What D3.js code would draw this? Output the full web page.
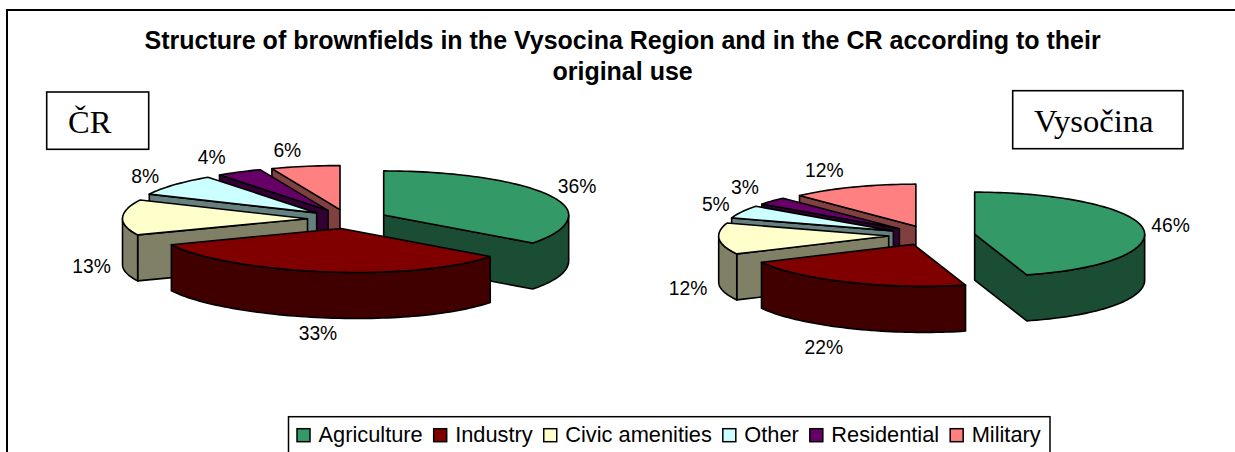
<!DOCTYPE html>
<html><head><meta charset="utf-8">
<script src="https://d3js.org/d3.v7.min.js"></script>
<style>html,body{margin:0;padding:0;background:#fff;overflow:hidden}svg{display:block}</style>
</head><body><svg id="c" width="1235" height="452"></svg>
<script>
const categories = ["Agriculture","Industry","Civic amenities","Other","Residential","Military"];
const colors = ["#339966","#800000","#FFFFCC","#CCFFFF","#660066","#FF8080"];
const crValues = [36,33,13,8,4,6];
const vysocinaValues = [46,22,12,5,3,12];
const titleLines = ["Structure of brownfields in the Vysocina Region and in the CR according to their","original use"];
const crNudge = [[26,-10],[-9.8,61],[-31,49],[-29,-9],[-27.5,-15],[-18,-16]];
const vyNudge = [[27.3,-4],[-25.7,65],[-31,49.7],[-26,-7.5],[-27,-14],[-29,-17]];

const svg = d3.select("#c");
const BLACK = "#000";
svg.append("rect").attr("x",7).attr("y",10).attr("width",1300).attr("height",500)
  .attr("fill","#fff").attr("stroke",BLACK).attr("stroke-width",2);

svg.append("g").selectAll("text").data(titleLines).join("text")
  .attr("x",622.6).attr("y",(d,i)=>49+i*31).attr("text-anchor","middle")
  .attr("font-family","'Liberation Sans'").attr("font-weight","bold").attr("font-size",25)
  .text(d=>d);

const line = d3.line();
const order = [5,4,3,2,0,1];   // painter's order, back to front

function drawPie(values, nudge, o){
  const g = svg.append("g");
  const slices = d3.pie().sort(null).value(d=>d)(values);
  const warp = dy => dy>0 ? o.skew*dy*dy/o.ry : 0;
  order.forEach(i=>{
    const s = slices[i], mid=(s.startAngle+s.endAngle)/2;
    const ax=o.cx+o.e*Math.sin(mid), ay=o.cy-o.e*o.k*Math.cos(mid);
    const P=t=>{const dy=-o.ry*Math.cos(t);
      return [ax+o.rx*Math.sin(t)+warp(dy), ay+dy];};
    const n=Math.max(6,Math.ceil((s.endAngle-s.startAngle)/0.03));
    const arc=d3.range(n+1).map(j=>P(s.startAngle+(s.endAngle-s.startAngle)*j/n));
    const ring=[[ax,ay],...arc,[ax,ay]];
    const base=d3.rgb(colors[i]); const wall=d3.rgb(base.r/2,base.g/2,base.b/2).formatHex();
    const style=sel=>sel.attr("stroke",BLACK).attr("stroke-width",1.6).attr("stroke-linejoin","round");
    // extruded wall: runs of boundary edges heading leftwards face the viewer
    let run=[];
    const flush=()=>{ if(run.length>1){
        const poly=[...run,...run.slice().reverse().map(p=>[p[0],p[1]+o.depth])];
        g.append("path").attr("d",line(poly)+"Z").attr("fill",wall).call(style);
      } run=[]; };
    for(let j=0;j<ring.length-1;j++){
      const a=ring[j],b=ring[j+1];
      if(b[0]<a[0]-1e-6){ if(!run.length) run.push(a); run.push(b);
        if(j===0||j===ring.length-2) flush(); }
      else flush();
    }
    flush();
    g.append("path").attr("d",line(ring)+"Z").attr("fill",colors[i]).call(style);
  });
  slices.forEach((s,i)=>{
    const mid=(s.startAngle+s.endAngle)/2;
    const ax=o.cx+o.e*Math.sin(mid), ay=o.cy-o.e*o.k*Math.cos(mid);
    const dy=-o.ry*Math.cos(mid);
    g.append("text")
      .attr("x",ax+o.rx*Math.sin(mid)+warp(dy)+nudge[i][0])
      .attr("y",ay+dy+nudge[i][1]+7)
      .attr("text-anchor","middle").attr("font-family","'Liberation Sans'")
      .attr("font-size",19.3).attr("fill","#000").text(d3.format(".0f")(values[i])+"%");
  });
}
drawPie(crValues,crNudge,{cx:347.5,cy:219,e:40,k:.24,rx:185,ry:44,depth:46,skew:.36});
drawPie(vysocinaValues,vyNudge,{cx:931.8,cy:235.4,e:43.2,k:.23,rx:170,ry:42,depth:46,skew:.25});

function tag(x,y,w,h,t,tx,by){
  svg.append("rect").attr("x",x).attr("y",y).attr("width",w).attr("height",h)
    .attr("fill","#fff").attr("stroke",BLACK).attr("stroke-width",1.6);
  svg.append("text").attr("x",tx).attr("y",by).attr("font-family","'Liberation Serif'")
    .attr("font-size",32.6).attr("fill","#000").text(t);
}
tag(46.7,92,102,57.3,"ČR",68,133);
tag(1012.7,90.7,170.3,58,"Vysočina",1034,131.7);

// legend
svg.append("rect").attr("x",288.5).attr("y",416.7).attr("width",761.5).attr("height",50)
  .attr("fill","#fff").attr("stroke",BLACK).attr("stroke-width",1.5);
let lx=297;
const lg=svg.append("g");
categories.forEach((c,i)=>{
  lg.append("rect").attr("x",lx).attr("y",428.7).attr("width",13).attr("height",13)
    .attr("fill",colors[i]).attr("stroke",BLACK).attr("stroke-width",1.5);
  const t=lg.append("text").attr("x",lx+21.5).attr("y",442).attr("font-family","'Liberation Sans'")
    .attr("font-size",21.8).attr("fill","#000").text(c);
  lx+=21.5+t.node().getComputedTextLength()+11;
});
</script></body></html>
